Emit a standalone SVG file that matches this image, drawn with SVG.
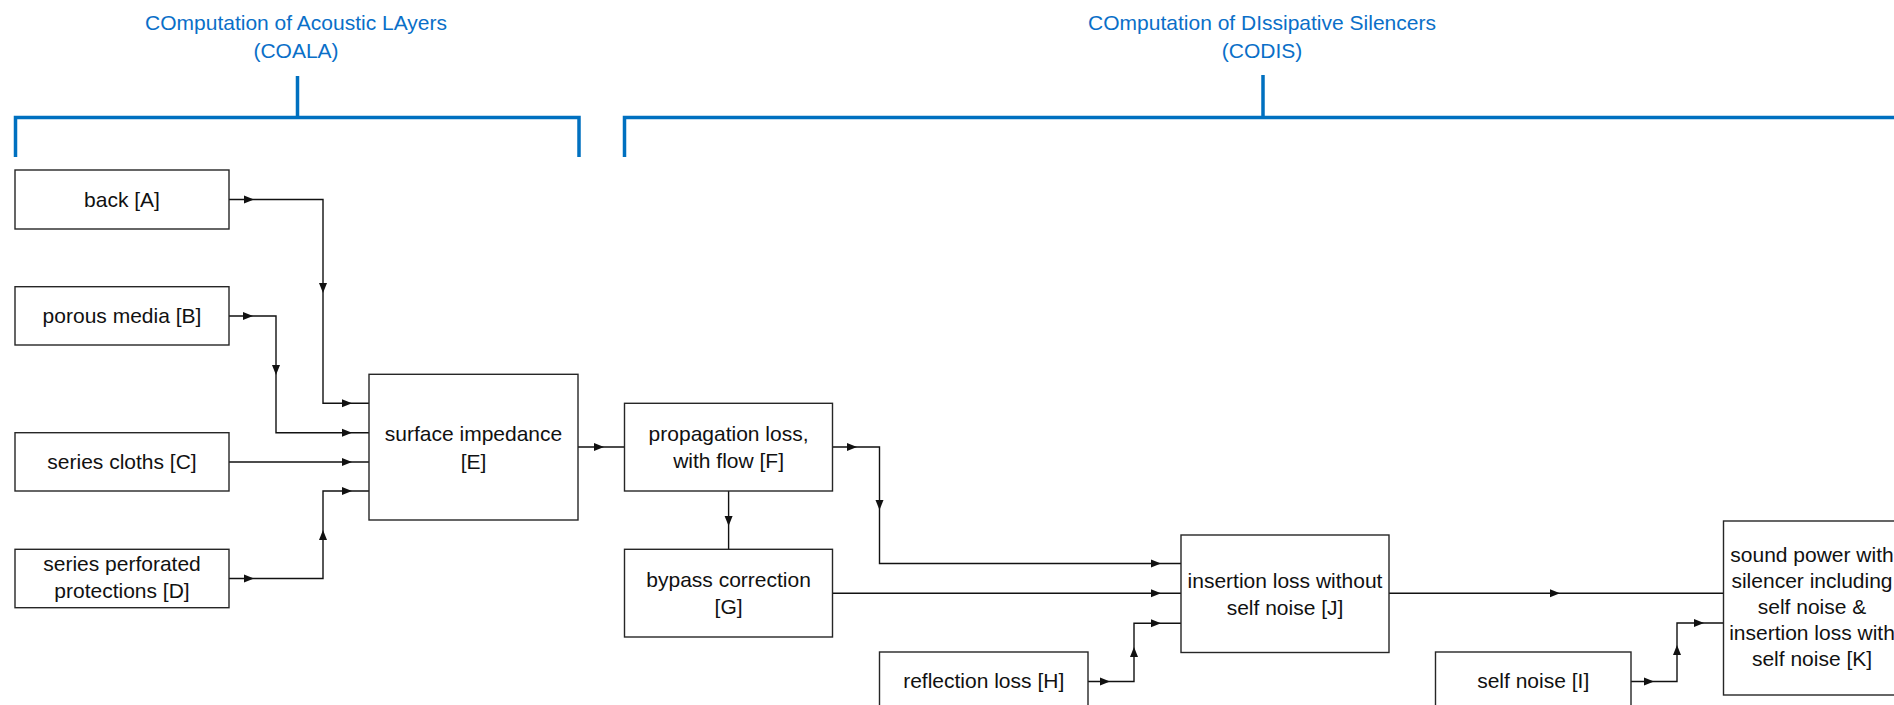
<svg xmlns="http://www.w3.org/2000/svg" xmlns:xlink="http://www.w3.org/1999/xlink" width="1894" height="705" viewBox="0 0 1894 705">
<defs>
<style>
.box{fill:#fff;stroke:#262626;stroke-width:1.4}
.lbl{font-family:"Liberation Sans",Arial,sans-serif;font-size:21px;fill:#111;text-anchor:middle}
.ttl{font-family:"Liberation Sans",Arial,sans-serif;font-size:21px;fill:#0A6FC8;text-anchor:middle}
.brk{fill:none;stroke:#0070C0;stroke-width:3.5}
.con{fill:none;stroke:#111;stroke-width:1.4}
.ah{fill:#111}
</style>
<path id="ah" d="M-5,-4 L5,0 L-5,4 Z"/>
</defs>
<rect width="1894" height="705" fill="#fff"/>

<g id="coala">
<path class="brk" d="M15.5,157 V117.5 H579 V157 M297.5,117.5 V76"/>
<text class="ttl" x="296" y="30">COmputation of Acoustic LAyers</text>
<text class="ttl" x="296" y="58">(COALA)</text>
</g>
<g id="codis">
<path class="brk" d="M624.5,157 V117.5 H1900 M1263,117.5 V75"/>
<text class="ttl" x="1262" y="30">COmputation of DIssipative Silencers</text>
<text class="ttl" x="1262" y="58">(CODIS)</text>
</g>

<g id="connectors">
<path class="con" d="M229,199.5 H323 V403.3 H369"/>
<path class="con" d="M229,316 H276 V432.7 H369"/>
<path class="con" d="M229,462 H369"/>
<path class="con" d="M229,578.5 H323 V491 H369"/>
<path class="con" d="M578,447 H624.5"/>
<path class="con" d="M728.6,491 V549.3"/>
<path class="con" d="M832.6,447 H879.5 V563.5 H1181"/>
<path class="con" d="M832.6,593.3 H1181"/>
<path class="con" d="M1088,681.5 H1134 V623.3 H1181"/>
<path class="con" d="M1389,593.3 H1723.5"/>
<path class="con" d="M1631,681.5 H1677 V623 H1723.5"/>
<g class="ah">
<use xlink:href="#ah" transform="translate(249,199.5)"/>
<use xlink:href="#ah" transform="translate(323,288) rotate(90)"/>
<use xlink:href="#ah" transform="translate(347,403.3)"/>
<use xlink:href="#ah" transform="translate(248,316)"/>
<use xlink:href="#ah" transform="translate(276,370) rotate(90)"/>
<use xlink:href="#ah" transform="translate(347,432.7)"/>
<use xlink:href="#ah" transform="translate(347,462)"/>
<use xlink:href="#ah" transform="translate(249,578.5)"/>
<use xlink:href="#ah" transform="translate(323,535) rotate(-90)"/>
<use xlink:href="#ah" transform="translate(347,491)"/>
<use xlink:href="#ah" transform="translate(599,447)"/>
<use xlink:href="#ah" transform="translate(728.6,521) rotate(90)"/>
<use xlink:href="#ah" transform="translate(852,447)"/>
<use xlink:href="#ah" transform="translate(879.5,505) rotate(90)"/>
<use xlink:href="#ah" transform="translate(1156,563.5)"/>
<use xlink:href="#ah" transform="translate(1156,593.3)"/>
<use xlink:href="#ah" transform="translate(1105,681.5)"/>
<use xlink:href="#ah" transform="translate(1134,652) rotate(-90)"/>
<use xlink:href="#ah" transform="translate(1156,623.3)"/>
<use xlink:href="#ah" transform="translate(1555,593.3)"/>
<use xlink:href="#ah" transform="translate(1649,681.5)"/>
<use xlink:href="#ah" transform="translate(1677,650) rotate(-90)"/>
<use xlink:href="#ah" transform="translate(1699,623)"/>
</g>
</g>

<g id="nodeA"><rect class="box" x="15" y="170" width="214" height="59"/><text class="lbl" x="122" y="207">back [A]</text></g>
<g id="nodeB"><rect class="box" x="15" y="286.7" width="214" height="58.3"/><text class="lbl" x="122" y="323">porous media [B]</text></g>
<g id="nodeC"><rect class="box" x="15" y="432.7" width="214" height="58.3"/><text class="lbl" x="122" y="469">series cloths [C]</text></g>
<g id="nodeD"><rect class="box" x="15" y="549.3" width="214" height="58.4"/><text class="lbl" x="122" y="571">series perforated</text><text class="lbl" x="122" y="598">protections [D]</text></g>
<g id="nodeE"><rect class="box" x="369" y="374.3" width="209" height="145.7"/><text class="lbl" x="473.5" y="441">surface impedance</text><text class="lbl" x="473.5" y="469">[E]</text></g>
<g id="nodeF"><rect class="box" x="624.5" y="403.3" width="208" height="87.7"/><text class="lbl" x="728.6" y="441">propagation loss,</text><text class="lbl" x="728.6" y="468">with flow [F]</text></g>
<g id="nodeG"><rect class="box" x="624.5" y="549.3" width="208" height="87.7"/><text class="lbl" x="728.6" y="587">bypass correction</text><text class="lbl" x="728.6" y="614">[G]</text></g>
<g id="nodeH"><rect class="box" x="879.5" y="652" width="208.5" height="59"/><text class="lbl" x="983.7" y="688">reflection loss [H]</text></g>
<g id="nodeI"><rect class="box" x="1435.5" y="652" width="195.5" height="59"/><text class="lbl" x="1533.2" y="688">self noise [I]</text></g>
<g id="nodeJ"><rect class="box" x="1181" y="535" width="208" height="117.5"/><text class="lbl" x="1285" y="587.5">insertion loss without</text><text class="lbl" x="1285" y="614.5">self noise [J]</text></g>
<g id="nodeK"><rect class="box" x="1723.5" y="521" width="178" height="174"/>
<text class="lbl" x="1812" y="562">sound power with</text>
<text class="lbl" x="1812" y="588">silencer including</text>
<text class="lbl" x="1812" y="614">self noise &amp;</text>
<text class="lbl" x="1812" y="640">insertion loss with</text>
<text class="lbl" x="1812" y="666">self noise [K]</text></g>
</svg>
